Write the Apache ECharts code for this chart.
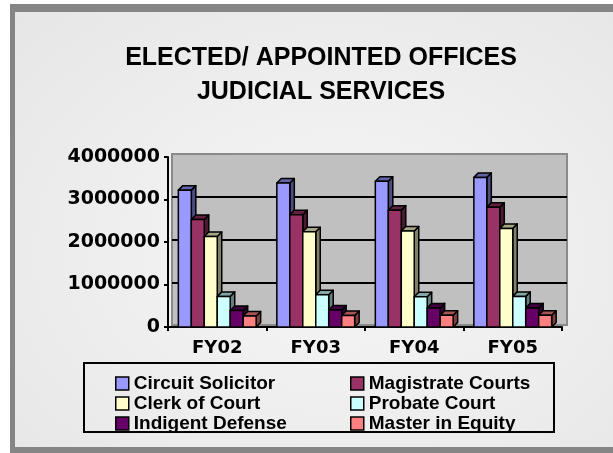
<!DOCTYPE html>
<html>
<head>
<meta charset="utf-8">
<title>Elected/Appointed Offices - Judicial Services</title>
<script src="https://cdn.jsdelivr.net/npm/echarts@6/dist/echarts.min.js"></script>
<style>
  html, body { margin: 0; padding: 0; background: #fff; overflow: hidden; }
  .frame { position: absolute; left: 10px; top: 4px; width: 640px; height: 470px; background: #858585; }
  .inner {
    position: absolute; left: 15px; top: 12px; width: 620px; height: 435px;
    background: radial-gradient(ellipse at 52% 55%, #f6f6f6 0%, #efefef 45%, #e6e6e6 100%);
  }
  #chart { position: absolute; left: 0; top: 0; width: 613px; height: 453px; }
</style>
</head>
<body>
<div class="frame"></div>
<div class="inner"></div>
<div id="chart"></div>
<script>
const years = ['FY02', 'FY03', 'FY04', 'FY05'];
const circuitSolicitor = [3220000, 3390000, 3430000, 3520000];
const magistrateCourts = [2530000, 2640000, 2750000, 2820000];
const clerkOfCourt = [2130000, 2240000, 2260000, 2320000];
const probateCourt = [720000, 760000, 710000, 720000];
const indigentDefense = [390000, 400000, 450000, 450000];
const masterInEquity = [260000, 270000, 275000, 275000];
const yTicks = [0, 1000000, 2000000, 3000000, 4000000];

const seriesList = [
  { name: 'Circuit Solicitor', color: '#9999FF', data: circuitSolicitor },
  { name: 'Magistrate Courts', color: '#993366', data: magistrateCourts },
  { name: 'Clerk of Court', color: '#FFFFCC', data: clerkOfCourt },
  { name: 'Probate Court', color: '#CCFFFF', data: probateCourt },
  { name: 'Indigent Defense', color: '#660066', data: indigentDefense },
  { name: 'Master in Equity', color: '#FF8080', data: masterInEquity }
];

const labelFont = 'DejaVu Sans';
const titleFont = 'Liberation Sans';

// darken a hex colour for the 3d side / top faces
const shade = (hex, k) => {
  const n = parseInt(hex.slice(1), 16);
  const r = Math.round(((n >> 16) & 255) * k);
  const g = Math.round(((n >> 8) & 255) * k);
  const b = Math.round((n & 255) * k);
  return 'rgb(' + r + ',' + g + ',' + b + ')';
};

const makeRender = (idx, color) => (params, api) => {
  const top = api.coord([api.value(0), api.value(1)]);
  const base = api.coord([api.value(0), 0]);
  const barW = api.size([1, 0])[0] * 0.79 / seriesList.length;
  const x0 = top[0] + (idx - seriesList.length / 2) * barW;
  const x1 = x0 + barW;
  const y0 = top[1];
  const y1 = base[1];
  const dx = 4.5;
  const dy = -4.5;
  const edge = { stroke: '#000', lineWidth: 1.5, lineJoin: 'round' };
  return {
    type: 'group',
    children: [
      {
        type: 'polygon',
        shape: { points: [[x1, y0], [x1 + dx, y0 + dy], [x1 + dx, y1 + dy], [x1, y1]] },
        style: Object.assign({ fill: shade(color, 0.5) }, edge)
      },
      {
        type: 'polygon',
        shape: { points: [[x0, y0], [x0 + dx, y0 + dy], [x1 + dx, y0 + dy], [x1, y0]] },
        style: Object.assign({ fill: shade(color, 0.65) }, edge)
      },
      {
        type: 'rect',
        shape: { x: x0, y: y0, width: barW, height: y1 - y0 },
        style: Object.assign({ fill: color }, edge)
      }
    ]
  };
};

const yMin = yTicks[0];
const yMax = yTicks[yTicks.length - 1];
const yStep = yTicks[1] - yTicks[0];

const legendText = {
  fontFamily: titleFont,
  fontWeight: 'bold',
  fontSize: 19,
  lineHeight: 19,
  color: '#000'
};

const chart = echarts.init(document.getElementById('chart'));

chart.setOption({
  animation: false,
  backgroundColor: 'transparent',
  title: {
    text: 'ELECTED/ APPOINTED OFFICES\nJUDICIAL SERVICES',
    left: 316,
    textAlign: 'center',
    top: 36,
    textStyle: {
      fontFamily: titleFont,
      fontWeight: 'bold',
      fontSize: 25,
      lineHeight: 34,
      color: '#000'
    }
  },
  legend: [
    {
      orient: 'vertical',
      left: 110,
      top: 369,
      itemWidth: 13,
      itemHeight: 13,
      itemGap: 1,
      icon: 'rect',
      itemStyle: { borderColor: '#000', borderWidth: 1.5 },
      textStyle: legendText,
      data: ['Circuit Solicitor', 'Clerk of Court', 'Indigent Defense']
    },
    {
      orient: 'vertical',
      left: 345,
      top: 369,
      itemWidth: 13,
      itemHeight: 13,
      itemGap: 1,
      icon: 'rect',
      itemStyle: { borderColor: '#000', borderWidth: 1.5 },
      textStyle: legendText,
      data: ['Magistrate Courts', 'Probate Court', 'Master in Equity']
    }
  ],
  graphic: [
    {
      type: 'rect',
      shape: { x: 84, y: 363, width: 470, height: 69 },
      style: { fill: 'none', stroke: '#000', lineWidth: 2 }
    }
  ],
  grid: [
    {
      // back wall
      left: 172, right: 46, top: 154, bottom: 128,
      show: true,
      backgroundColor: '#c0c0c0',
      borderColor: '#8a8a8a',
      borderWidth: 2
    },
    {
      // front axes
      left: 168, right: 51, top: 157, bottom: 126
    }
  ],
  xAxis: [
    {
      gridIndex: 0,
      type: 'category',
      data: years,
      axisLine: { show: false },
      axisTick: { show: false },
      axisLabel: { show: false }
    },
    {
      gridIndex: 1,
      type: 'category',
      data: years,
      axisLine: { lineStyle: { color: '#000', width: 2 } },
      axisTick: { show: true, length: 4, lineStyle: { color: '#000', width: 2 } },
      axisLabel: {
        margin: 12,
        fontFamily: labelFont,
        fontWeight: 'bold',
        fontSize: 18,
        color: '#000'
      }
    }
  ],
  yAxis: [
    {
      gridIndex: 0,
      type: 'value',
      min: yMin,
      max: yMax,
      interval: yStep,
      axisLine: { show: false },
      axisTick: { show: false },
      axisLabel: { show: false },
      splitLine: {
        show: true,
        showMinLine: false,
        showMaxLine: false,
        lineStyle: { color: '#000', width: 2 }
      }
    },
    {
      gridIndex: 1,
      type: 'value',
      min: yMin,
      max: yMax,
      interval: yStep,
      axisLine: { show: true, lineStyle: { color: '#000', width: 2 } },
      axisTick: { show: true, length: 4, lineStyle: { color: '#000', width: 2 } },
      splitLine: { show: false },
      axisLabel: {
        margin: 8,
        fontFamily: labelFont,
        fontWeight: 'bold',
        fontSize: 19,
        color: '#000',
        formatter: (v) => String(v)
      }
    }
  ],
  series: seriesList.map((s, idx) => ({
    name: s.name,
    type: 'custom',
    xAxisIndex: 1,
    yAxisIndex: 1,
    itemStyle: { color: s.color },
    encode: { x: 0, y: 1 },
    data: s.data.map((v, i) => [i, v]),
    renderItem: makeRender(idx, s.color)
  }))
});
</script>
</body>
</html>
